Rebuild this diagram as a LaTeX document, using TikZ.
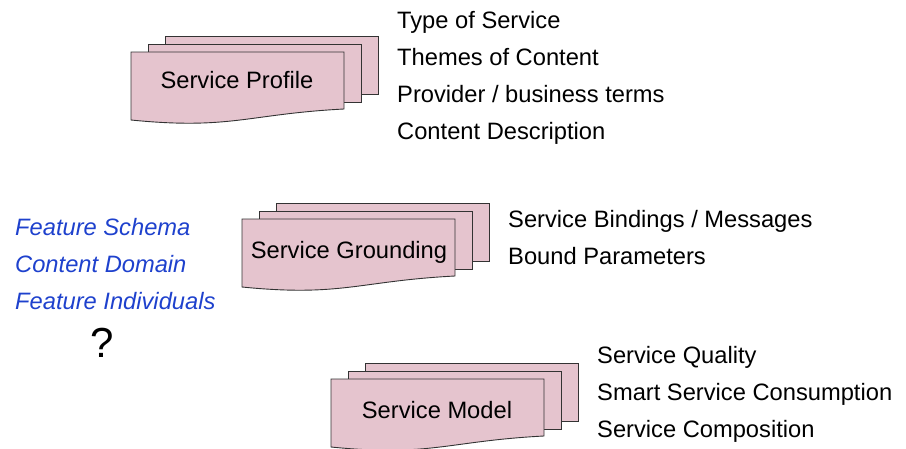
\documentclass[tikz,border=0pt]{standalone}
\usepackage{fontspec}
\setmainfont{Liberation Sans}
\definecolor{sheetfill}{RGB}{229,196,206}
\definecolor{sheetline}{RGB}{51,51,51}
\definecolor{featblue}{RGB}{30,65,205}

% one sheet of a document stack, top-left corner at (#1,#2), pixel units
\newcommand\plainsheet[2]{%
  \draw[sheet] (#1,#2) rectangle ++(213,58);}
\newcommand\wavysheet[2]{%
  \draw[sheet] (#1,#2) -- ++(213,0) -- ++(0,57)
    .. controls +(-96,5) and +(100,10) .. ++(-213,11) -- cycle;}
% a stack of three sheets, front sheet top-left at (#1,#2)
\newcommand\docstack[2]{%
  \plainsheet{#1+34}{#2-16}
  \plainsheet{#1+17}{#2-8}
  \wavysheet{#1}{#2}}

\begin{document}
\begin{tikzpicture}[x=1pt,y=-1pt,
  sheet/.style={fill=sheetfill,draw=sheetline,line width=0.9pt,line join=miter},
  label/.style={anchor=base west,inner sep=0pt,font=\fontsize{23.7}{28}\selectfont},
  title/.style={anchor=base,inner sep=0pt,font=\fontsize{23.7}{28}\selectfont},
  feature/.style={label,text=featblue,font=\fontsize{23.7}{28}\selectfont\itshape}]
\useasboundingbox (0,0) rectangle (906,448);

% Service Profile
\docstack{131}{52}
\node[title] (profile) at (237,88) {Service Profile};
\node[label] (p1) at (397,28.5) {Type of Service};
\node[label] (p2) at (397,65.5) {Themes of Content};
\node[label] (p3) at (397,102.5) {Provider / business terms};
\node[label] (p4) at (397,139.5) {Content Description};

% Service Grounding
\docstack{242}{219}
\node[title] (grounding) at (349,258) {Service Grounding};
\node[label] (g1) at (508,227.5) {Service Bindings / Messages};
\node[label] (g2) at (508,264.5) {Bound Parameters};

% Service Model
\docstack{331}{379}
\node[title] (model) at (437,418) {Service Model};
\node[label] (m1) at (597,363) {Service Quality};
\node[label] (m2) at (597,400) {Smart Service Consumption};
\node[label] (m3) at (597,437) {Service Composition};

% feature ontology terms
\node[feature] (f1) at (15,235) {Feature Schema};
\node[feature] (f2) at (15,272) {Content Domain};
\node[feature] (f3) at (15,309) {Feature Individuals};
\node[anchor=base,inner sep=0pt,font=\fontsize{42}{48}\selectfont] (q) at (102,357) {?};
\end{tikzpicture}
\end{document}
